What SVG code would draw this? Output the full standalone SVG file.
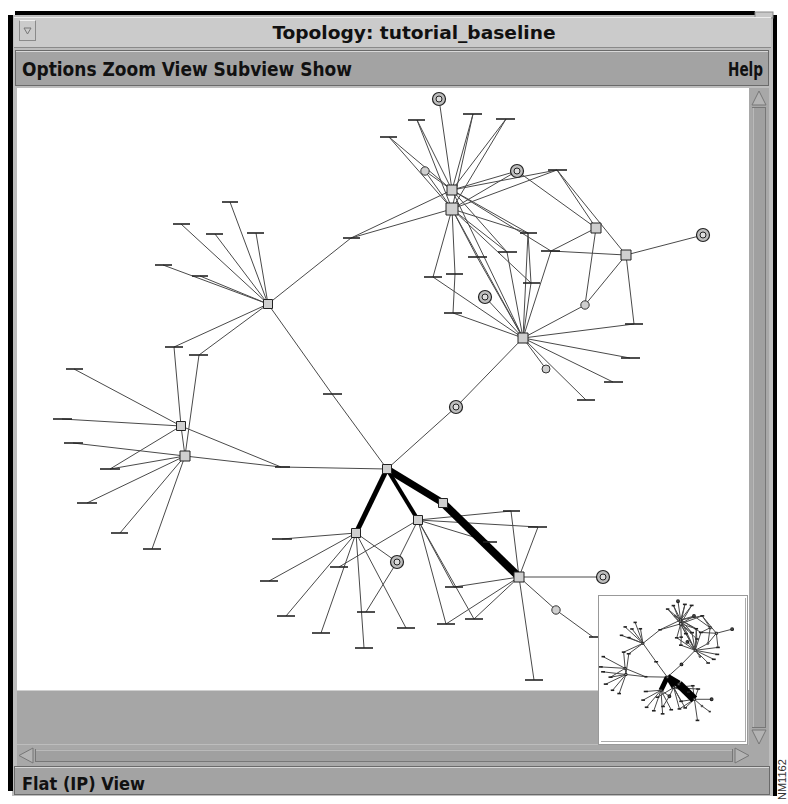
<svg xmlns="http://www.w3.org/2000/svg" xmlns:xlink="http://www.w3.org/1999/xlink" width="788" height="804" viewBox="0 0 788 804">
<style>
.e{stroke:#4a4a4a;stroke-width:1;fill:none;vector-effect:non-scaling-stroke}
.t{stroke:#000;fill:none;vector-effect:non-scaling-stroke}
.bar{stroke:#222;stroke-width:1.6;vector-effect:non-scaling-stroke}
.sq{fill:#cfcfcf;stroke:#222;stroke-width:1;vector-effect:non-scaling-stroke}
.dco{fill:#bdbdbd;stroke:#222;stroke-width:1.2;vector-effect:non-scaling-stroke}
.dci{fill:#dedede;stroke:#222;stroke-width:1;vector-effect:non-scaling-stroke}
.sc{fill:#cfcfcf;stroke:#333;stroke-width:1;vector-effect:non-scaling-stroke}
.ui{font-family:"DejaVu Sans Condensed","Liberation Sans Narrow","Liberation Sans",sans-serif;font-weight:bold;fill:#111}
.bev{fill:none;stroke:#e6e6e6;stroke-width:1}
.shd{fill:none;stroke:#6a6a6a;stroke-width:1}
</style>
<defs>
<clipPath id="insetClip"><rect x="599" y="596" width="146" height="145"/></clipPath>
</defs>
<rect x="0" y="0" width="788" height="804" fill="#fff"/>
<!-- window frame -->
<rect x="12" y="15" width="762" height="781" fill="#bdbdbd"/>
<rect x="15" y="11" width="740" height="4" fill="#000"/>
<rect x="8" y="15" width="5" height="776" fill="#000"/>
<rect x="773" y="15" width="4" height="781" fill="#000"/>
<rect x="755" y="12" width="18" height="6" fill="#c8c8c8" stroke="#888" stroke-width="1"/>
<!-- title bar -->
<rect x="14" y="17" width="757" height="31" fill="#cbcbcb"/>
<line x1="14" y1="47.5" x2="771" y2="47.5" stroke="#8a8a8a"/>
<line x1="14" y1="17.5" x2="771" y2="17.5" stroke="#ececec"/>
<g id="menuButton">
<rect x="19.5" y="20.5" width="16" height="20" fill="#cbcbcb" stroke="#8a8a8a"/>
<line x1="19.5" y1="20.5" x2="35.5" y2="20.5" stroke="#efefef"/>
<polygon points="24,28 31,28 27.5,34" fill="none" stroke="#777" stroke-width="1"/>
</g>
<text class="ui" x="414" y="39" font-size="17" text-anchor="middle" textLength="283" lengthAdjust="spacingAndGlyphs">Topology: tutorial_baseline</text>
<!-- menu bar -->
<rect x="15" y="50" width="754" height="36" fill="#a3a3a3"/>
<rect x="15.5" y="50.5" width="753" height="35" class="shd"/>
<line x1="16" y1="51.5" x2="768" y2="51.5" stroke="#d8d8d8"/>
<text class="ui" x="22" y="76" font-size="19" textLength="330" lengthAdjust="spacingAndGlyphs">Options Zoom View Subview Show</text>
<text class="ui" x="763" y="76" font-size="19" text-anchor="end" textLength="35" lengthAdjust="spacingAndGlyphs">Help</text>
<!-- canvas -->
<rect x="17" y="88" width="732" height="602" fill="#fff"/>
<rect x="17" y="690" width="582" height="54" fill="#a6a6a6"/>
<line x1="17" y1="690.5" x2="599" y2="690.5" stroke="#d0d0d0"/>

<g id="graph">
<g id="connectors">
<line class="e" x1="452" y1="190" x2="389" y2="137"/>
<line class="e" x1="452" y1="209" x2="389" y2="137"/>
<line class="e" x1="452" y1="190" x2="417" y2="120"/>
<line class="e" x1="452" y1="209" x2="417" y2="120"/>
<line class="e" x1="452" y1="190" x2="439" y2="99"/>
<line class="e" x1="452" y1="190" x2="473" y2="114"/>
<line class="e" x1="452" y1="209" x2="473" y2="114"/>
<line class="e" x1="452" y1="190" x2="506" y2="119"/>
<line class="e" x1="452" y1="209" x2="506" y2="119"/>
<line class="e" x1="452" y1="190" x2="425" y2="171"/>
<line class="e" x1="452" y1="209" x2="425" y2="171"/>
<line class="e" x1="452" y1="190" x2="517" y2="171"/>
<line class="e" x1="452" y1="209" x2="517" y2="171"/>
<line class="e" x1="452" y1="190" x2="557" y2="170"/>
<line class="e" x1="452" y1="209" x2="557" y2="170"/>
<line class="e" x1="452" y1="190" x2="351" y2="238"/>
<line class="e" x1="452" y1="209" x2="351" y2="238"/>
<line class="e" x1="351" y1="238" x2="268" y2="304"/>
<line class="e" x1="452" y1="190" x2="528" y2="233"/>
<line class="e" x1="452" y1="209" x2="528" y2="233"/>
<line class="e" x1="452" y1="209" x2="507" y2="252"/>
<line class="e" x1="452" y1="190" x2="507" y2="252"/>
<line class="e" x1="452" y1="209" x2="477" y2="257"/>
<line class="e" x1="452" y1="209" x2="433" y2="277"/>
<line class="e" x1="452" y1="209" x2="455" y2="274"/>
<line class="e" x1="455" y1="274" x2="453" y2="313"/>
<line class="e" x1="452" y1="209" x2="531" y2="283"/>
<line class="e" x1="452" y1="190" x2="551" y2="251"/>
<line class="e" x1="517" y1="171" x2="596" y2="228"/>
<line class="e" x1="557" y1="170" x2="596" y2="228"/>
<line class="e" x1="557" y1="170" x2="626" y2="255"/>
<line class="e" x1="551" y1="251" x2="626" y2="255"/>
<line class="e" x1="551" y1="251" x2="596" y2="228"/>
<line class="e" x1="551" y1="251" x2="523" y2="338"/>
<line class="e" x1="528" y1="233" x2="523" y2="338"/>
<line class="e" x1="507" y1="252" x2="523" y2="338"/>
<line class="e" x1="477" y1="257" x2="523" y2="338"/>
<line class="e" x1="433" y1="277" x2="523" y2="338"/>
<line class="e" x1="453" y1="313" x2="523" y2="338"/>
<line class="e" x1="531" y1="283" x2="523" y2="338"/>
<line class="e" x1="528" y1="233" x2="531" y2="283"/>
<line class="e" x1="596" y1="228" x2="585" y2="305"/>
<line class="e" x1="626" y1="255" x2="585" y2="305"/>
<line class="e" x1="585" y1="305" x2="523" y2="338"/>
<line class="e" x1="626" y1="255" x2="703" y2="235"/>
<line class="e" x1="626" y1="255" x2="634" y2="324"/>
<line class="e" x1="634" y1="324" x2="523" y2="338"/>
<line class="e" x1="523" y1="338" x2="630" y2="358"/>
<line class="e" x1="523" y1="338" x2="613" y2="382"/>
<line class="e" x1="523" y1="338" x2="586" y2="400"/>
<line class="e" x1="523" y1="338" x2="546" y2="369"/>
<line class="e" x1="523" y1="338" x2="485" y2="297"/>
<line class="e" x1="452" y1="209" x2="523" y2="338"/>
<line class="e" x1="452" y1="190" x2="523" y2="338"/>
<line class="e" x1="523" y1="338" x2="456" y2="407"/>
<line class="e" x1="456" y1="407" x2="387" y2="469"/>
<line class="e" x1="268" y1="304" x2="230" y2="202"/>
<line class="e" x1="268" y1="304" x2="181" y2="224"/>
<line class="e" x1="268" y1="304" x2="215" y2="234"/>
<line class="e" x1="268" y1="304" x2="256" y2="233"/>
<line class="e" x1="268" y1="304" x2="163" y2="265"/>
<line class="e" x1="268" y1="304" x2="200" y2="276"/>
<line class="e" x1="268" y1="304" x2="174" y2="347"/>
<line class="e" x1="268" y1="304" x2="199" y2="355"/>
<line class="e" x1="268" y1="304" x2="332" y2="394"/>
<line class="e" x1="332" y1="394" x2="387" y2="469"/>
<line class="e" x1="174" y1="347" x2="181" y2="426"/>
<line class="e" x1="199" y1="355" x2="185" y2="456"/>
<line class="e" x1="181" y1="426" x2="185" y2="456"/>
<line class="e" x1="181" y1="426" x2="74" y2="369"/>
<line class="e" x1="181" y1="426" x2="62" y2="419"/>
<line class="e" x1="185" y1="456" x2="73" y2="443"/>
<line class="e" x1="181" y1="426" x2="110" y2="469"/>
<line class="e" x1="185" y1="456" x2="110" y2="469"/>
<line class="e" x1="185" y1="456" x2="87" y2="503"/>
<line class="e" x1="185" y1="456" x2="120" y2="533"/>
<line class="e" x1="185" y1="456" x2="152" y2="549"/>
<line class="e" x1="181" y1="426" x2="281" y2="467"/>
<line class="e" x1="185" y1="456" x2="281" y2="467"/>
<line class="e" x1="281" y1="467" x2="387" y2="469"/>
<line class="e" x1="356" y1="533" x2="282" y2="539"/>
<line class="e" x1="356" y1="533" x2="269" y2="581"/>
<line class="e" x1="356" y1="533" x2="286" y2="616"/>
<line class="e" x1="356" y1="533" x2="321" y2="633"/>
<line class="e" x1="356" y1="533" x2="364" y2="648"/>
<line class="e" x1="356" y1="533" x2="406" y2="628"/>
<line class="e" x1="356" y1="533" x2="397" y2="562"/>
<line class="e" x1="366" y1="612" x2="397" y2="562"/>
<line class="e" x1="418" y1="520" x2="397" y2="562"/>
<line class="e" x1="418" y1="520" x2="339" y2="567"/>
<line class="e" x1="418" y1="520" x2="446" y2="624"/>
<line class="e" x1="418" y1="520" x2="474" y2="619"/>
<line class="e" x1="418" y1="520" x2="454" y2="587"/>
<line class="e" x1="418" y1="520" x2="511" y2="511"/>
<line class="e" x1="418" y1="520" x2="538" y2="527"/>
<line class="e" x1="418" y1="520" x2="490" y2="542"/>
<line class="e" x1="511" y1="511" x2="519" y2="577"/>
<line class="e" x1="538" y1="527" x2="519" y2="577"/>
<line class="e" x1="446" y1="624" x2="519" y2="577"/>
<line class="e" x1="474" y1="619" x2="519" y2="577"/>
<line class="e" x1="454" y1="587" x2="519" y2="577"/>
<line class="e" x1="519" y1="577" x2="534" y2="680"/>
<line class="e" x1="519" y1="577" x2="556" y2="610"/>
<line class="e" x1="556" y1="610" x2="593" y2="637"/>
<line class="e" x1="519" y1="577" x2="603" y2="577"/>
<line class="t" x1="387" y1="469" x2="356" y2="533" stroke-width="5"/>
<line class="t" x1="387" y1="469" x2="418" y2="520" stroke-width="4"/>
<line class="t" x1="387" y1="469" x2="443" y2="503" stroke-width="7"/>
<line class="t" x1="443" y1="503" x2="519" y2="577" stroke-width="8"/>
</g>
<g id="n_hA"><rect class="sq" x="447" y="185" width="10" height="10"/></g>
<g id="n_hB"><rect class="sq" x="446" y="203" width="12" height="12"/></g>
<g id="n_hC"><rect class="sq" x="591" y="223" width="10" height="10"/></g>
<g id="n_hD"><rect class="sq" x="621" y="250" width="10" height="10"/></g>
<g id="n_hE"><rect class="sq" x="518" y="333" width="10" height="10"/></g>
<g id="n_hL"><rect class="sq" x="263.5" y="299.5" width="9" height="9"/></g>
<g id="n_hL1"><rect class="sq" x="176.5" y="421.5" width="9" height="9"/></g>
<g id="n_hL2"><rect class="sq" x="180" y="451" width="10" height="10"/></g>
<g id="n_hCen"><rect class="sq" x="382.5" y="464.5" width="9" height="9"/></g>
<g id="n_hLL"><rect class="sq" x="351.5" y="528.5" width="9" height="9"/></g>
<g id="n_hM"><rect class="sq" x="413.5" y="515.5" width="9" height="9"/></g>
<g id="n_sqMid"><rect class="sq" x="438.5" y="498.5" width="9" height="9"/></g>
<g id="n_hR"><rect class="sq" x="514" y="572" width="10" height="10"/></g>
<g id="n_dc1"><circle class="dco" cx="439" cy="99" r="6.5"/><circle class="dci" cx="439" cy="99" r="3"/></g>
<g id="n_dc2"><circle class="dco" cx="517" cy="171" r="6.5"/><circle class="dci" cx="517" cy="171" r="3"/></g>
<g id="n_dc3"><circle class="dco" cx="703" cy="235" r="6.5"/><circle class="dci" cx="703" cy="235" r="3"/></g>
<g id="n_dc4"><circle class="dco" cx="485" cy="297" r="6.5"/><circle class="dci" cx="485" cy="297" r="3"/></g>
<g id="n_dc5"><circle class="dco" cx="456" cy="407" r="6.5"/><circle class="dci" cx="456" cy="407" r="3"/></g>
<g id="n_dc6"><circle class="dco" cx="397" cy="562" r="6.5"/><circle class="dci" cx="397" cy="562" r="3"/></g>
<g id="n_dc7"><circle class="dco" cx="603" cy="577" r="6.5"/><circle class="dci" cx="603" cy="577" r="3"/></g>
<g id="n_sc1"><circle class="sc" cx="425" cy="171" r="4.2"/></g>
<g id="n_sc2"><circle class="sc" cx="585" cy="305" r="4.2"/></g>
<g id="n_sc3"><circle class="sc" cx="546" cy="369" r="4"/></g>
<g id="n_sc4"><circle class="sc" cx="556" cy="610" r="4.2"/></g>
<g id="n_b1"><line class="bar" x1="380" y1="137" x2="397" y2="137"/></g>
<g id="n_b2"><line class="bar" x1="408" y1="120" x2="425" y2="120"/></g>
<g id="n_b3"><line class="bar" x1="463" y1="114" x2="482" y2="114"/></g>
<g id="n_b4"><line class="bar" x1="496" y1="119" x2="515" y2="119"/></g>
<g id="n_b5"><line class="bar" x1="548" y1="170" x2="567" y2="170"/></g>
<g id="n_b6"><line class="bar" x1="520" y1="233" x2="537" y2="233"/></g>
<g id="n_b7"><line class="bar" x1="498" y1="252" x2="517" y2="252"/></g>
<g id="n_b8"><line class="bar" x1="468" y1="257" x2="487" y2="257"/></g>
<g id="n_b9"><line class="bar" x1="541" y1="251" x2="560" y2="251"/></g>
<g id="n_b10"><line class="bar" x1="424" y1="277" x2="442" y2="277"/></g>
<g id="n_b11"><line class="bar" x1="446" y1="274" x2="463" y2="274"/></g>
<g id="n_b12"><line class="bar" x1="523" y1="283" x2="540" y2="283"/></g>
<g id="n_b13"><line class="bar" x1="444" y1="313" x2="462" y2="313"/></g>
<g id="n_b14"><line class="bar" x1="625" y1="324" x2="643" y2="324"/></g>
<g id="n_b15"><line class="bar" x1="621" y1="358" x2="640" y2="358"/></g>
<g id="n_b16"><line class="bar" x1="604" y1="382" x2="623" y2="382"/></g>
<g id="n_b17"><line class="bar" x1="577" y1="400" x2="595" y2="400"/></g>
<g id="n_b18"><line class="bar" x1="343" y1="238" x2="360" y2="238"/></g>
<g id="n_b19"><line class="bar" x1="222" y1="202" x2="238" y2="202"/></g>
<g id="n_b20"><line class="bar" x1="173" y1="224" x2="190" y2="224"/></g>
<g id="n_b21"><line class="bar" x1="206" y1="234" x2="223" y2="234"/></g>
<g id="n_b22"><line class="bar" x1="247" y1="233" x2="264" y2="233"/></g>
<g id="n_b23"><line class="bar" x1="155" y1="265" x2="172" y2="265"/></g>
<g id="n_b24"><line class="bar" x1="192" y1="276" x2="208" y2="276"/></g>
<g id="n_b25"><line class="bar" x1="165" y1="347" x2="183" y2="347"/></g>
<g id="n_b26"><line class="bar" x1="189" y1="355" x2="208" y2="355"/></g>
<g id="n_b27"><line class="bar" x1="323" y1="394" x2="342" y2="394"/></g>
<g id="n_b28"><line class="bar" x1="66" y1="369" x2="83" y2="369"/></g>
<g id="n_b29"><line class="bar" x1="53" y1="419" x2="72" y2="419"/></g>
<g id="n_b30"><line class="bar" x1="64" y1="443" x2="83" y2="443"/></g>
<g id="n_b31"><line class="bar" x1="100" y1="469" x2="120" y2="469"/></g>
<g id="n_b32"><line class="bar" x1="77" y1="503" x2="97" y2="503"/></g>
<g id="n_b33"><line class="bar" x1="111" y1="533" x2="128" y2="533"/></g>
<g id="n_b34"><line class="bar" x1="143" y1="549" x2="161" y2="549"/></g>
<g id="n_b35"><line class="bar" x1="275" y1="467" x2="290" y2="467"/></g>
<g id="n_b36"><line class="bar" x1="272" y1="539" x2="292" y2="539"/></g>
<g id="n_b37"><line class="bar" x1="260" y1="581" x2="278" y2="581"/></g>
<g id="n_b38"><line class="bar" x1="330" y1="567" x2="348" y2="567"/></g>
<g id="n_b39"><line class="bar" x1="277" y1="616" x2="295" y2="616"/></g>
<g id="n_b40"><line class="bar" x1="312" y1="633" x2="330" y2="633"/></g>
<g id="n_b41"><line class="bar" x1="357" y1="612" x2="375" y2="612"/></g>
<g id="n_b42"><line class="bar" x1="355" y1="648" x2="373" y2="648"/></g>
<g id="n_b43"><line class="bar" x1="397" y1="628" x2="415" y2="628"/></g>
<g id="n_b44"><line class="bar" x1="437" y1="624" x2="455" y2="624"/></g>
<g id="n_b45"><line class="bar" x1="465" y1="619" x2="483" y2="619"/></g>
<g id="n_b46"><line class="bar" x1="445" y1="587" x2="463" y2="587"/></g>
<g id="n_b47"><line class="bar" x1="503" y1="511" x2="520" y2="511"/></g>
<g id="n_b48"><line class="bar" x1="528" y1="527" x2="547" y2="527"/></g>
<g id="n_b49"><line class="bar" x1="483" y1="542" x2="497" y2="542"/></g>
<g id="n_b50"><line class="bar" x1="525" y1="680" x2="543" y2="680"/></g>
<g id="n_b51"><line class="bar" x1="589" y1="637" x2="599" y2="637"/></g>
</g>

<!-- overview inset -->
<g id="overview">
<rect x="598.5" y="595.5" width="149" height="149" fill="#fff" stroke="#999"/>
<g clip-path="url(#insetClip)">
<use xlink:href="#graph" href="#graph" transform="translate(588,581) scale(0.205)"/>
</g>
<line x1="745.5" y1="598" x2="745.5" y2="742" stroke="#aaa"/>
<line x1="601" y1="741.5" x2="746" y2="741.5" stroke="#aaa"/>
</g>

<!-- vertical scrollbar -->
<g id="vscroll">
<rect x="749" y="88" width="20" height="657" fill="#a8a8a8"/>
<rect x="752.5" y="107.5" width="13" height="620" fill="#a0a0a0" stroke="#777"/>
<line x1="753" y1="108" x2="753" y2="727" stroke="#d4d4d4"/>
<polygon points="759,91 766,105 752,105" fill="#b4b4b4" stroke="#777"/>
<polygon points="752,730 766,730 759,744" fill="#b4b4b4" stroke="#777"/>
</g>
<!-- horizontal scrollbar -->
<g id="hscroll">
<rect x="17" y="745" width="752" height="21" fill="#a8a8a8"/>
<rect x="35.5" y="749.5" width="697" height="12" fill="#a0a0a0" stroke="#777"/>
<line x1="36" y1="750" x2="732" y2="750" stroke="#d4d4d4"/>
<polygon points="19,755.5 33,748 33,763" fill="#b4b4b4" stroke="#777"/>
<polygon points="735,748 749,755.5 735,763" fill="#b4b4b4" stroke="#777"/>
</g>
<!-- status bar -->
<rect x="14" y="766" width="756" height="29" fill="#a3a3a3"/>
<rect x="14.5" y="766.5" width="755" height="28" class="shd"/>
<line x1="15" y1="767.5" x2="769" y2="767.5" stroke="#d8d8d8"/>
<text class="ui" x="22" y="790" font-size="18" textLength="123" lengthAdjust="spacingAndGlyphs">Flat (IP) View</text>
<text x="786" y="800" font-family="Liberation Sans, sans-serif" font-size="11" fill="#333" transform="rotate(-90 786 800)">NM1162</text>
</svg>
